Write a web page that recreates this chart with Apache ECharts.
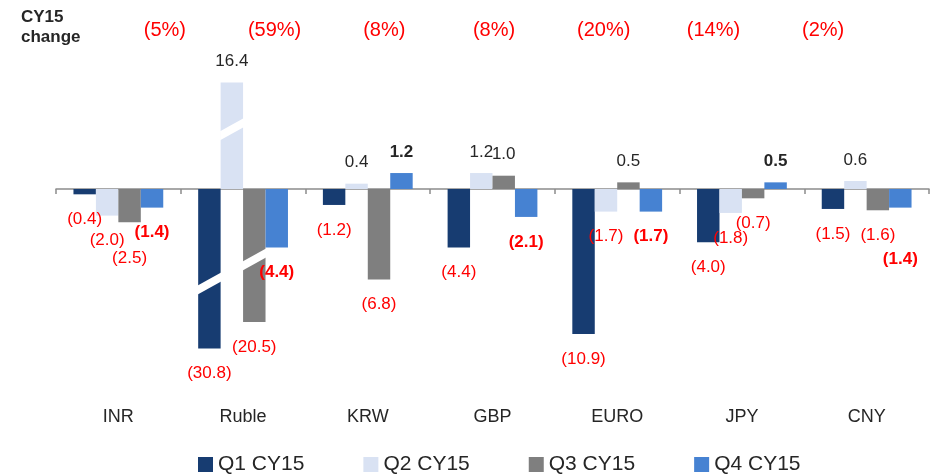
<!DOCTYPE html>
<html>
<head>
<meta charset="utf-8">
<script src="https://cdn.jsdelivr.net/npm/echarts@6/dist/echarts.min.js"></script>
<style>
html, body { margin: 0; padding: 0; background: #fff; }
#chart { width: 931px; height: 476px; }
</style>
</head>
<body>
<div id="chart"></div>
<script>
// currencies and quarterly change
var categories = ['INR', 'Ruble', 'KRW', 'GBP', 'EURO', 'JPY', 'CNY'];
var q1 = [-0.4, -30.8, -1.2, -4.4, -10.9, -4.0, -1.5];
var q2 = [-2.0, 16.4, 0.4, 1.2, -1.7, -1.8, 0.6];
var q3 = [-2.5, -20.5, -6.8, 1.0, 0.5, -0.7, -1.6];
var q4 = [-1.4, -4.4, 1.2, -2.1, -1.7, 0.5, -1.4];
var cyChange = ['(5%)', '(59%)', '(8%)', '(8%)', '(20%)', '(14%)', '(2%)'];
var seriesNames = ['Q1 CY15', 'Q2 CY15', 'Q3 CY15', 'Q4 CY15'];

// Ruble bars are cut (broken bars): value they are drawn to, and where the cut is
var rubleDrawn = [-12.0, 8.0, -10.0, null];
var rubleCutAt = [-7.1, 4.5, -5.3, null];

var colors = ['#173c71', '#d9e2f3', '#7f7f7f', '#4682d2'];
var RED = '#ff0000';
var DARK = '#262626';
var FONT = '"Liberation Sans", Arial, sans-serif';

// a few labels were moved by hand in the original
var labelShift = { 'INR-2': 11, 'CNY-3': 27 };

function fmt(v) {
	return v < 0 ? '(' + Math.abs(v).toFixed(1) + ')' : v.toFixed(1);
}

function makeSeries(idx, vals) {
	return {
		name: seriesNames[idx],
		type: 'bar',
		xAxisIndex: 0,
		yAxisIndex: 0,
		barGap: '0%',
		barCategoryGap: '28%',
		itemStyle: { color: colors[idx] },
		label: {
			show: true,
			fontFamily: FONT,
			fontSize: 17,
			fontWeight: idx === 3 ? 'bold' : 'normal',
			formatter: function (p) { return fmt(vals[p.dataIndex]); }
		},
		data: vals.map(function (v, i) {
			var shown = v;
			if (categories[i] === 'Ruble' && rubleDrawn[idx] != null) shown = rubleDrawn[idx];
			var neg = v < 0;
			var d = neg ? 16.5 : 12.5;
			var key = categories[i] + '-' + idx;
			if (labelShift[key]) d += labelShift[key];
			return {
				value: shown,
				label: { position: neg ? 'bottom' : 'top', distance: d, color: neg ? RED : DARK }
			};
		})
	};
}

var cutData = [];
rubleCutAt.forEach(function (v, k) {
	if (v != null) cutData.push([categories.indexOf('Ruble'), k, v]);
});

var chart = echarts.init(document.getElementById('chart'));
var option = {
	animation: false,
	title: {
		text: 'CY15\nchange',
		left: 21,
		top: 7,
		padding: 0,
		textStyle: { fontFamily: FONT, fontSize: 17, fontWeight: 'bold', color: DARK, lineHeight: 20 }
	},
	legend: {
		data: seriesNames,
		left: 198,
		top: 454,
		padding: 0,
		itemWidth: 15,
		itemHeight: 15,
		itemGap: 59,
		icon: 'rect',
		textStyle: { fontFamily: FONT, fontSize: 21, color: DARK }
	},
	grid: [
		{ left: 56, right: 2, top: 69.3, bottom: 74.2 },
		{ left: 110, right: 53, top: 50, height: 1 }
	],
	xAxis: [
		{
			type: 'category', gridIndex: 0, data: categories,
			axisLine: { onZero: true, lineStyle: { color: '#8c8c8c', width: 1.5 } },
			axisTick: { show: true, length: 5, lineStyle: { color: '#8c8c8c', width: 1.5 } },
			axisLabel: { show: false }
		},
		{
			type: 'category', gridIndex: 0, data: categories, position: 'bottom',
			axisLine: { show: false, onZero: false },
			axisTick: { show: false },
			axisLabel: { margin: 6, fontFamily: FONT, fontSize: 18, color: DARK }
		},
		{
			type: 'category', gridIndex: 1, data: categories, position: 'top',
			axisLine: { show: false },
			axisTick: { show: false },
			axisLabel: {
				margin: 10, fontFamily: FONT, fontSize: 20, color: RED,
				formatter: function (v, i) { return cyChange[i]; }
			}
		}
	],
	yAxis: [
		{ type: 'value', gridIndex: 0, min: -16, max: 9, show: false, splitLine: { show: false } },
		{ type: 'value', gridIndex: 1, show: false, splitLine: { show: false } }
	],
	series: [
		makeSeries(0, q1),
		makeSeries(1, q2),
		makeSeries(2, q3),
		makeSeries(3, q4),
		{
			// white slanted cut across the broken Ruble bars
			type: 'custom',
			xAxisIndex: 0,
			yAxisIndex: 0,
			z: 5,
			silent: true,
			data: cutData,
			renderItem: function (params, api) {
				var c = api.coord([api.value(0), api.value(2)]);
				var band = api.size([1, 0])[0];
				var bw = band * 0.72 / 4;
				var x0 = c[0] - 2 * bw + api.value(1) * bw;
				var x1 = x0 + bw;
				var rise = 6.5, half = 4.5;
				return {
					type: 'polygon',
					shape: { points: [
						[x0 - 0.5, c[1] + rise - half],
						[x1 + 0.5, c[1] - rise - half],
						[x1 + 0.5, c[1] - rise + half],
						[x0 - 0.5, c[1] + rise + half]
					] },
					style: { fill: '#fff' }
				};
			}
		}
	]
};
chart.setOption(option);
</script>
</body>
</html>
